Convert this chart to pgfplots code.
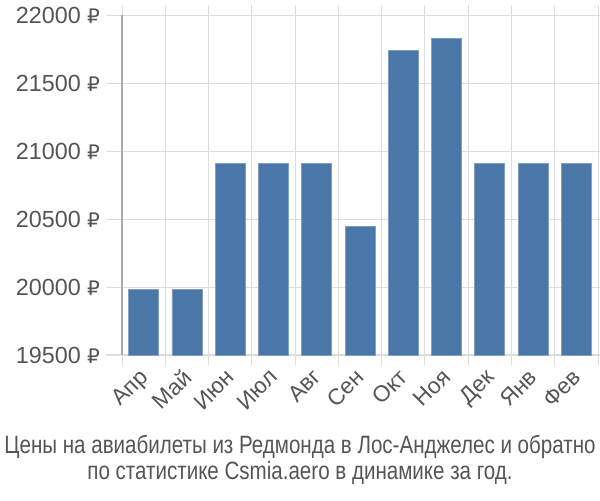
\documentclass[border=0pt]{standalone}
\usepackage{pgfplots}
\pgfplotsset{compat=1.18}
\usepackage{fontspec}
\setmainfont{Liberation Sans}
\newfontfamily\rub{DejaVu Sans}
\newfontfamily\titlefont[FakeStretch=0.82]{Liberation Sans}
\definecolor{barblue}{RGB}{74,118,168}
\definecolor{txt}{RGB}{85,85,85}
\definecolor{gridc}{RGB}{221,221,221}
\definecolor{axc}{RGB}{170,170,170}
\begin{document}
\begin{tikzpicture}
\path[use as bounding box] (0pt,0pt) rectangle (450pt,375pt);
\begin{axis}[
  at={(91.5pt,108.75pt)}, anchor=south west,
  scale only axis, width=357pt, height=255pt,
  xmin=-0.5, xmax=10.5, ymin=19500, ymax=22000,
  ytick={19500,20000,...,22000},
  scaled y ticks=false,
  yticklabel={\pgfmathprintnumber[fixed,1000 sep={}]{\tick}~{\rub\fontsize{15}{18}\selectfont ₽}},
  /pgf/number format/assume math mode=true,
  xtick={0,...,10},
  xticklabels={Апр,Май,Июн,Июл,Авг,Сен,Окт,Ноя,Дек,Янв,Фев},
  minor xtick={-0.5,0.5,...,10.5},
  xminorgrids, ymajorgrids,
  grid style={gridc, line width=0.75pt},
  minor grid style={gridc, line width=0.75pt},
  axis line style={draw=none},
  major tick length=12pt,
  minor tick length=7.5pt,
  tick align=outside,
  every major x tick/.style={draw=none},
  every minor x tick/.style={gridc, line width=0.75pt},
  every major y tick/.style={gridc, line width=0.75pt},
  yticklabel style={font=\fontsize{17.5}{20}\selectfont, text=txt, xshift=-1pt},
  xticklabel style={font=\fontsize{17}{20}\selectfont, text=txt, rotate=45, anchor=north east, inner sep=1pt, yshift=6pt},
  ybar, bar width=22.5pt,
  clip=false,
]
\addplot[fill=barblue, draw=barblue!70!white, line width=0.5pt] coordinates {
(0,19980) (1,19980) (2,20910) (3,20910) (4,20910) (5,20445) (6,21740) (7,21830) (8,20910) (9,20910) (10,20910)};
\draw[axc, line width=1.2pt] (axis cs:-0.5,19500) -- (axis cs:-0.5,22000);
\end{axis}
\node[text=txt, font=\titlefont\fontsize{18.8}{20}\selectfont, inner sep=0pt] at (225pt,40pt) {Цены на авиабилеты из Редмонда в Лос-Анджелес и обратно};
\node[text=txt, font=\titlefont\fontsize{18.8}{20}\selectfont, inner sep=0pt] at (225pt,20pt) {по статистике Csmia.aero в динамике за год.};
\end{tikzpicture}
\end{document}
